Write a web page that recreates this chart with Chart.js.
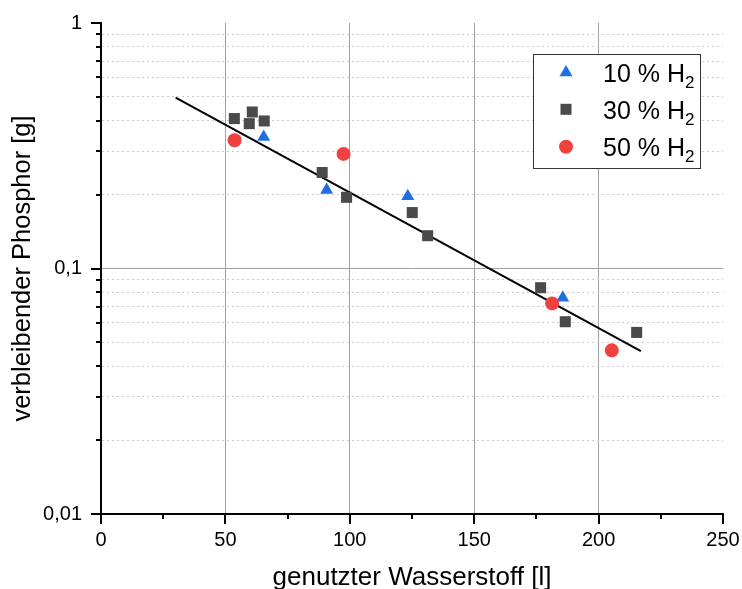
<!DOCTYPE html>
<html>
<head>
<meta charset="utf-8">
<script src="https://cdn.jsdelivr.net/npm/chart.js@4/dist/chart.umd.min.js"></script>
<style>
  html, body { margin: 0; padding: 0; background: #fff; }
  #wrap { width: 742px; height: 589px; }
</style>
</head>
<body>
<div id="wrap"><canvas id="chart" width="742" height="589"></canvas></div>
<script>
// x axis ticks / labels
const xTicks = [0, 25, 50, 75, 100, 125, 150, 175, 200, 225, 250]
const xLabelled = [0, 50, 100, 150, 200, 250]
const xGridAt = [50, 100, 150, 200]

// y axis (log) ticks / labels
const yTicks = [0.01, 0.02, 0.03, 0.04, 0.05, 0.06, 0.07, 0.08, 0.09,
                0.1, 0.2, 0.3, 0.4, 0.5, 0.6, 0.7, 0.8, 0.9, 1]
const yMajor = [0.01, 0.1, 1]
const yLabels = ['0,01', '0,1', '1']

// series
const seriesNames = ['10 % H', '30 % H', '50 % H']
const seriesSub = '2'

const h2_10_x = [65.4, 90.7, 123.3, 185.6]
const h2_10_y = [0.343, 0.209, 0.197, 0.076]

const h2_30_x = [53.6, 59.6, 60.8, 65.6, 88.9, 98.7, 125.1, 131.3, 176.7, 186.6, 215.3]
const h2_30_y = [0.408, 0.389, 0.434, 0.399, 0.246, 0.195, 0.169, 0.136, 0.0835, 0.0607, 0.0549]

const h2_50_x = [53.7, 97.5, 181.3, 205.3]
const h2_50_y = [0.333, 0.293, 0.0721, 0.0464]

// exponential fit (straight on log axis)
const fit_x = [30, 217]
const fit_y = [0.497, 0.0461]

const toPoints = (xs, ys) => xs.map((x, i) => ({ x: x, y: ys[i] }))

const FONT = '"Liberation Sans", Arial, Helvetica, sans-serif'
Chart.defaults.font.family = FONT
Chart.defaults.color = '#000'

const markerStyles = [
  { style: 'triangle', color: '#1f6fe0', radius: 7.5 },
  { style: 'rect', color: '#4a4a4a', radius: 7.8 },
  { style: 'circle', color: '#f04040', radius: 7 }
]

function drawMarker(ctx, m, x, y) {
  ctx.save()
  ctx.fillStyle = m.color
  ctx.beginPath()
  if (m.style === 'triangle') {
    const r = m.radius
    ctx.moveTo(x, y - r)
    ctx.lineTo(x + r * Math.sin(2 * Math.PI / 3), y + r / 2)
    ctx.lineTo(x - r * Math.sin(2 * Math.PI / 3), y + r / 2)
    ctx.closePath()
  } else if (m.style === 'rect') {
    const s = m.radius * Math.SQRT1_2
    ctx.rect(x - s, y - s, 2 * s, 2 * s)
  } else {
    ctx.arc(x, y, m.radius, 0, Math.PI * 2)
  }
  ctx.fill()
  ctx.restore()
}

// scales add tick padding to the layout; drop it so the plot box stays put
const noScalePadding = scale => {
  scale.paddingLeft = 0
  scale.paddingRight = 0
  scale.paddingTop = 0
  scale.paddingBottom = 0
}

// outward tick marks: long for labelled ticks, short for minor ones
const tickMarks = {
  id: 'tickMarks',
  afterDraw(chart) {
    const { ctx, chartArea, scales } = chart
    ctx.save()
    ctx.strokeStyle = '#000'
    ctx.lineWidth = 2
    ctx.beginPath()
    xTicks.forEach(v => {
      const px = Math.round(scales.x.getPixelForValue(v))
      const len = xLabelled.includes(v) ? 10 : 5
      ctx.moveTo(px, chartArea.bottom)
      ctx.lineTo(px, chartArea.bottom + len)
    })
    yTicks.forEach(v => {
      const py = Math.round(scales.y.getPixelForValue(v))
      const len = yMajor.includes(v) ? 10 : 5
      ctx.moveTo(chartArea.left - len, py)
      ctx.lineTo(chartArea.left, py)
    })
    ctx.stroke()
    ctx.restore()
  }
}

// boxed legend with subscript
const boxLegend = {
  id: 'boxLegend',
  afterDraw(chart) {
    const ctx = chart.ctx
    const left = 533.5, top = 54.5, w = 167, h = 114
    ctx.save()
    ctx.fillStyle = '#fff'
    ctx.fillRect(left, top, w, h)
    ctx.strokeStyle = '#333'
    ctx.lineWidth = 1
    ctx.strokeRect(left, top, w, h)
    const markerY = [72.5, 109.3, 146.7]
    const baseY = [81.7, 118.7, 155.7]
    seriesNames.forEach((name, i) => {
      drawMarker(ctx, markerStyles[i], 566, markerY[i])
      ctx.fillStyle = '#000'
      ctx.textAlign = 'left'
      ctx.textBaseline = 'alphabetic'
      ctx.font = '25px ' + FONT
      ctx.fillText(name, 603, baseY[i])
      const tw = ctx.measureText(name).width
      ctx.font = '17px ' + FONT
      ctx.fillText(seriesSub, 603 + tw, baseY[i] + 6.6)
    })
    ctx.restore()
  }
}

const transparent = 'rgba(0,0,0,0)'

new Chart(document.getElementById('chart'), {
  type: 'scatter',
  data: {
    datasets: [
      {
        label: 'Fit',
        data: toPoints(fit_x, fit_y),
        showLine: true,
        borderColor: '#000',
        borderWidth: 2,
        pointRadius: 0,
        fill: false,
        order: 4
      },
      {
        label: seriesNames[0] + '₂',
        data: toPoints(h2_10_x, h2_10_y),
        pointStyle: 'triangle',
        pointRadius: markerStyles[0].radius,
        backgroundColor: markerStyles[0].color,
        borderWidth: 0,
        order: 3
      },
      {
        label: seriesNames[1] + '₂',
        data: toPoints(h2_30_x, h2_30_y),
        pointStyle: 'rect',
        pointRadius: markerStyles[1].radius,
        backgroundColor: markerStyles[1].color,
        borderWidth: 0,
        order: 2
      },
      {
        label: seriesNames[2] + '₂',
        data: toPoints(h2_50_x, h2_50_y),
        pointStyle: 'circle',
        pointRadius: markerStyles[2].radius,
        backgroundColor: markerStyles[2].color,
        borderWidth: 0,
        order: 1
      }
    ]
  },
  options: {
    responsive: false,
    animation: false,
    devicePixelRatio: 1,
    layout: {
      padding: { top: 23, right: 19, bottom: 0, left: 0 }
    },
    plugins: {
      legend: { display: false },
      tooltip: { enabled: false }
    },
    scales: {
      x: {
        type: 'linear',
        position: 'bottom',
        min: 0,
        max: 250,
        afterBuildTicks: scale => {
          scale.ticks = xTicks.map(v => ({ value: v }))
        },
        afterFit: scale => {
          scale.height = 75
          noScalePadding(scale)
        },
        ticks: {
          autoSkip: false,
          maxRotation: 0,
          padding: 14,
          color: '#000',
          font: { size: 20 },
          callback: value => xLabelled.includes(value) ? String(value) : ''
        },
        grid: {
          drawTicks: false,
          lineWidth: 1,
          color: ctx => (ctx.tick && xGridAt.includes(ctx.tick.value)) ? '#a0a0a0' : transparent
        },
        border: { color: '#000', width: 2 },
        title: {
          display: true,
          text: 'genutzter Wasserstoff [l]',
          color: '#000',
          font: { size: 26, lineHeight: 0.87 },
          padding: 0
        }
      },
      y: {
        type: 'logarithmic',
        position: 'left',
        min: 0.01,
        max: 1,
        afterBuildTicks: scale => {
          scale.ticks = yTicks.map(v => ({ value: v, major: yMajor.includes(v) }))
        },
        afterFit: scale => {
          scale.width = 101
          noScalePadding(scale)
        },
        ticks: {
          autoSkip: false,
          padding: 19,
          color: '#000',
          font: { size: 20 },
          callback: value => {
            const i = yMajor.indexOf(value)
            return i >= 0 ? yLabels[i] : ''
          }
        },
        grid: {
          drawTicks: false,
          lineWidth: 1,
          color: ctx => {
            if (!ctx.tick) return transparent
            const v = ctx.tick.value
            if (v === 0.1) return '#a0a0a0'
            if (v === 0.01 || v === 1) return transparent
            return '#cccccc'
          }
        },
        border: {
          color: '#000',
          width: 2,
          dash: ctx => (ctx.tick && !yMajor.includes(ctx.tick.value)) ? [2, 3] : []
        },
        title: {
          display: true,
          text: 'verbleibender Phosphor [g]',
          color: '#000',
          font: { size: 25.5 },
          padding: { top: 7.8, bottom: 0 }
        }
      }
    }
  },
  plugins: [tickMarks, boxLegend]
})
</script>
</body>
</html>
